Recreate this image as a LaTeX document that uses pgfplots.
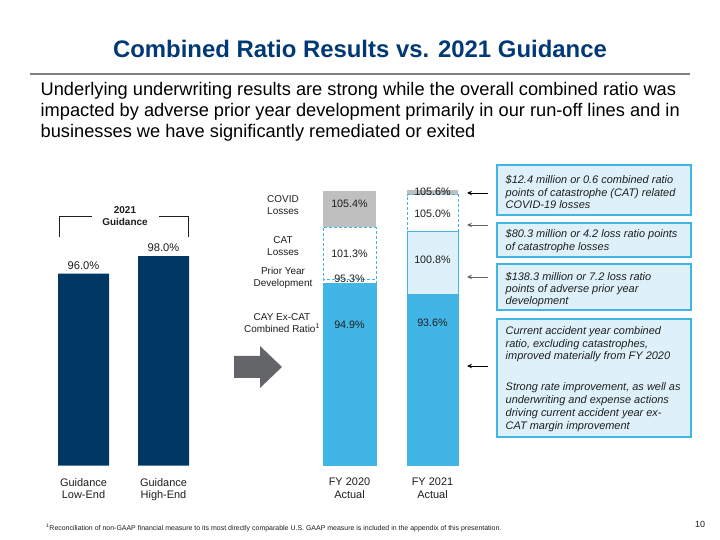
\documentclass[border=0pt]{standalone}
\usepackage{pgfplots}
\pgfplotsset{compat=1.18}
\usepackage{fontspec}
\setmainfont{Liberation Sans}
\usetikzlibrary{arrows.meta}
\definecolor{navy}{RGB}{0,56,101}
\definecolor{cblue}{RGB}{65,182,230}
\definecolor{pale}{RGB}{222,241,250}
\definecolor{cgrey}{RGB}{191,191,191}
\definecolor{ttl}{RGB}{0,57,117}
\definecolor{txt}{RGB}{30,30,30}
\definecolor{agrey}{RGB}{99,101,105}
\definecolor{rule}{RGB}{128,128,128}
\newcommand{\fs}[2]{\fontsize{#1}{#2}\selectfont}
\newcommand{\bl}[2]{\node[anchor=base west, inner sep=0pt, font=\fs{11}{13}\itshape, text=txt] at (505.5,540-#1) {#2};}
\newcommand{\pl}[3]{\node[inner sep=0pt, font=\fs{10.8}{12}, text=txt] at (#1,540-#2) {#3};}
\begin{document}
\begin{tikzpicture}[x=1bp,y=1bp]
\fill[white] (0,0) rectangle (720,540);
\path[use as bounding box] (0,0) rectangle (720,540);

% title and rule
\node[font=\fs{24}{28}\bfseries, text=ttl, anchor=base, inner sep=0pt] at (360,540-58) {Combined Ratio Results vs. 2021 Guidance};
\draw[line width=1.5bp, rule] (30,540-74) -- (690,540-74);

% subtitle
\node[anchor=base west, inner sep=0pt, font=\fs{18.3}{22}, text=black] at (40.5,540-96) {Underlying underwriting results are strong while the overall combined ratio was};
\node[anchor=base west, inner sep=0pt, font=\fs{18.3}{22}, text=black] at (40.5,540-117) {impacted by adverse prior year development primarily in our run-off lines and in};
\node[anchor=base west, inner sep=0pt, font=\fs{18.3}{22}, text=black] at (40.5,540-138) {businesses we have significantly remediated or exited};

\begin{axis}[at={(40,85)}, anchor=south west, x=1bp, y=8.75bp,
  xmin=40, xmax=480, ymin=74.06, ymax=108,
  axis line style={draw=none}, ytick=\empty,
  xtick={83.5,163.5,349.5,432.5},
  xticklabels={{Guidance\\Low-End},{Guidance\\High-End},{FY 2020\\Actual},{FY 2021\\Actual}},
  major tick length=0pt,
  xticklabel style={align=center, font=\fs{11}{12.5}, text=txt, yshift=-9bp}]
% guidance
\addplot[ybar, bar shift=0pt, bar width=51bp, fill=navy, draw=none] coordinates {(83.5,96.0) (163.5,98.0)};
% FY 2020
\addplot[ybar, bar shift=0pt, bar width=53bp, fill=cgrey, draw=none] coordinates {(349.5,105.4)};
\addplot[ybar, bar shift=0pt, bar width=53bp, fill=white, draw=cblue, line width=1bp, dash pattern=on 3bp off 2bp] coordinates {(349.5,101.3)};
\addplot[ybar, bar shift=0pt, bar width=53bp, fill=white, draw=cblue, line width=1bp, dash pattern=on 3bp off 2bp] coordinates {(349.5,95.3)};
\addplot[ybar, bar shift=0pt, bar width=53bp, fill=cblue, draw=cblue, line width=1bp] coordinates {(349.5,94.9)};
% FY 2021
\addplot[ybar, bar shift=0pt, bar width=51bp, fill=cgrey, draw=none] coordinates {(432.5,105.6)};
\addplot[ybar, bar shift=0pt, bar width=51bp, fill=white, draw=cblue, line width=1bp, dash pattern=on 3bp off 2bp] coordinates {(432.5,105.0)};
\addplot[ybar, bar shift=0pt, bar width=51bp, fill=pale, draw=cblue, line width=1bp] coordinates {(432.5,100.8)};
\addplot[ybar, bar shift=0pt, bar width=51bp, fill=cblue, draw=cblue, line width=1bp] coordinates {(432.5,93.6)};
\end{axis}

% value labels
\node[inner sep=0pt, font=\fs{11.2}{13}, text=txt] at (83.5,540-266) {96.0\%};
\node[inner sep=0pt, font=\fs{11.2}{13}, text=txt] at (163.5,540-248) {98.0\%};
\pl{349.5}{204}{105.4\%}
\pl{349.5}{254}{101.3\%}
\pl{349.5}{279}{95.3\%}
\pl{349.5}{325}{94.9\%}
\pl{432.5}{192}{105.6\%}
\pl{432.5}{214}{105.0\%}
\pl{432.5}{260}{100.8\%}
\pl{432.5}{323}{93.6\%}

% segment names
\node[align=center, inner sep=0pt, font=\fs{10}{12}, text=txt] at (283,540-205) {COVID\\Losses};
\node[align=center, inner sep=0pt, font=\fs{10}{12}, text=txt] at (283,540-246) {CAT\\Losses};
\node[align=center, inner sep=0pt, font=\fs{10}{12}, text=txt] at (283,540-278) {Prior Year\\Development};
\node[align=center, inner sep=0pt, font=\fs{10}{12}, text=txt] at (282,540-323) {CAY Ex-CAT\\Combined Ratio\textsuperscript{1}};

% guidance bracket
\node[align=center, inner sep=0pt, font=\fs{10}{12}\bfseries, text=txt] at (125,540-216) {2021\\Guidance};
\draw[line width=0.8bp, txt] (59,540-237) -- (59,540-216) -- (92,540-216);
\draw[line width=0.8bp, txt] (159,540-216) -- (188,540-216) -- (188,540-237);

% big arrow
\fill[agrey] (234,540-356) -- (260,540-356) -- (260,540-346) -- (282,540-367) -- (260,540-388) -- (260,540-378) -- (234,540-378) -- cycle;

% small arrows
\draw[-{Stealth[length=5bp,width=4.5bp]}, line width=0.8bp, black] (488,540-193) -- (467,540-193);
\draw[-{Stealth[length=5bp,width=4.5bp]}, line width=0.8bp, agrey] (488,540-225) -- (467,540-225);
\draw[-{Stealth[length=5bp,width=4.5bp]}, line width=0.8bp, agrey] (488,540-277) -- (467,540-277);
\draw[-{Stealth[length=5bp,width=4.5bp]}, line width=0.8bp, black] (488,540-366) -- (467,540-366);

% boxes
\draw[cblue, line width=1.5bp, fill=pale] (497,540-165) rectangle (691,540-215);
\draw[cblue, line width=1.5bp, fill=pale] (497,540-223) rectangle (691,540-257);
\draw[cblue, line width=1.5bp, fill=pale] (497,540-264) rectangle (691,540-310);
\draw[cblue, line width=1.5bp, fill=pale] (497,540-319) rectangle (691,540-437);

\bl{184}{\$12.4 million or 0.6 combined ratio}
\bl{197}{points of catastrophe (CAT) related}
\bl{209}{COVID-19 losses}
\bl{238}{\$80.3 million or 4.2 loss ratio points}
\bl{251}{of catastrophe losses}
\bl{281}{\$138.3 million or 7.2 loss ratio}
\bl{293}{points of adverse prior year}
\bl{305}{development}
\bl{335}{Current accident year combined}
\bl{348}{ratio, excluding catastrophes,}
\bl{360}{improved materially from FY 2020}
\bl{391}{Strong rate improvement, as well as}
\bl{404}{underwriting and expense actions}
\bl{417}{driving current accident year ex-}
\bl{430}{CAT margin improvement}

% footnote and page number
\node[anchor=base west, inner sep=0pt, font=\fs{7}{8}, text=txt] at (46,540-531) {\textsuperscript{1}Reconciliation of non-GAAP financial measure to its most directly comparable U.S. GAAP measure is included in the appendix of this presentation.};
\node[inner sep=0pt, font=\fs{9}{11}, text=txt] at (700,540-524) {10};
\end{tikzpicture}
\end{document}
